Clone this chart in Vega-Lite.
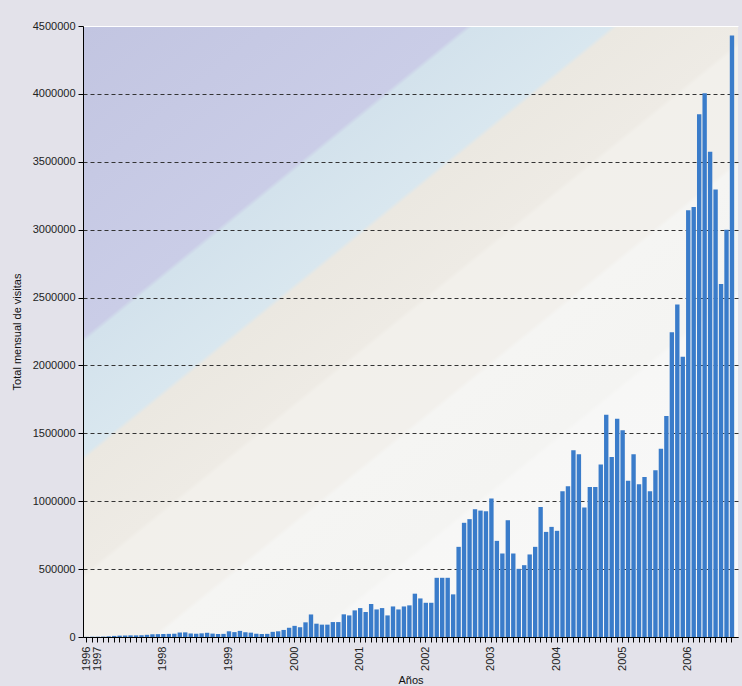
{
  "$schema": "https://vega.github.io/schema/vega-lite/v6.json",
  "width": 655,
  "height": 611,
  "autosize": {"type": "none"},
  "padding": {"left": 83, "top": 26, "right": 4, "bottom": 49},
  "background": "#e3e2ea",
  "config": {
    "font": "Liberation Sans",
    "view": {
      "stroke": null,
      "fill": {
        "gradient": "linear",
        "x1": 0, "y1": 0, "x2": 0.87, "y2": 1,
        "stops": [
          {"offset": 0, "color": "#c2c5e1"},
          {"offset": 0.29, "color": "#cacde7"},
          {"offset": 0.295, "color": "#d3e2ec"},
          {"offset": 0.4, "color": "#d9e7ef"},
          {"offset": 0.405, "color": "#ebe8e1"},
          {"offset": 0.51, "color": "#eeebe5"},
          {"offset": 0.515, "color": "#f2f0eb"},
          {"offset": 0.62, "color": "#f2f0ec"},
          {"offset": 0.625, "color": "#f5f5f3"},
          {"offset": 0.74, "color": "#f4f4f2"},
          {"offset": 0.745, "color": "#f7f7f6"},
          {"offset": 1, "color": "#f8f8f8"}
        ]
      }
    }
  },
  "data": {
    "values": [
      {"mes": "1996-11", "visitas": 1000}, {"mes": "1996-12", "visitas": 2000},
      {"mes": "1997-01", "visitas": 2000}, {"mes": "1997-02", "visitas": 3000}, {"mes": "1997-03", "visitas": 5000}, {"mes": "1997-04", "visitas": 8000}, {"mes": "1997-05", "visitas": 10000}, {"mes": "1997-06", "visitas": 11000}, {"mes": "1997-07", "visitas": 12000}, {"mes": "1997-08", "visitas": 12000}, {"mes": "1997-09", "visitas": 13000}, {"mes": "1997-10", "visitas": 16000}, {"mes": "1997-11", "visitas": 20000}, {"mes": "1997-12", "visitas": 21000},
      {"mes": "1998-01", "visitas": 22000}, {"mes": "1998-02", "visitas": 23000}, {"mes": "1998-03", "visitas": 24000}, {"mes": "1998-04", "visitas": 33000}, {"mes": "1998-05", "visitas": 34000}, {"mes": "1998-06", "visitas": 26000}, {"mes": "1998-07", "visitas": 24000}, {"mes": "1998-08", "visitas": 27000}, {"mes": "1998-09", "visitas": 31000}, {"mes": "1998-10", "visitas": 25000}, {"mes": "1998-11", "visitas": 22000}, {"mes": "1998-12", "visitas": 23000},
      {"mes": "1999-01", "visitas": 42000}, {"mes": "1999-02", "visitas": 36000}, {"mes": "1999-03", "visitas": 45000}, {"mes": "1999-04", "visitas": 35000}, {"mes": "1999-05", "visitas": 32000}, {"mes": "1999-06", "visitas": 24000}, {"mes": "1999-07", "visitas": 22000}, {"mes": "1999-08", "visitas": 23000}, {"mes": "1999-09", "visitas": 38000}, {"mes": "1999-10", "visitas": 42000}, {"mes": "1999-11", "visitas": 52000}, {"mes": "1999-12", "visitas": 68000},
      {"mes": "2000-01", "visitas": 82000}, {"mes": "2000-02", "visitas": 72000}, {"mes": "2000-03", "visitas": 108000}, {"mes": "2000-04", "visitas": 166000}, {"mes": "2000-05", "visitas": 98000}, {"mes": "2000-06", "visitas": 91000}, {"mes": "2000-07", "visitas": 91000}, {"mes": "2000-08", "visitas": 110000}, {"mes": "2000-09", "visitas": 110000}, {"mes": "2000-10", "visitas": 167000}, {"mes": "2000-11", "visitas": 159000}, {"mes": "2000-12", "visitas": 196000},
      {"mes": "2001-01", "visitas": 213000}, {"mes": "2001-02", "visitas": 184000}, {"mes": "2001-03", "visitas": 243000}, {"mes": "2001-04", "visitas": 203000}, {"mes": "2001-05", "visitas": 213000}, {"mes": "2001-06", "visitas": 159000}, {"mes": "2001-07", "visitas": 225000}, {"mes": "2001-08", "visitas": 203000}, {"mes": "2001-09", "visitas": 225000}, {"mes": "2001-10", "visitas": 233000}, {"mes": "2001-11", "visitas": 319000}, {"mes": "2001-12", "visitas": 284000},
      {"mes": "2002-01", "visitas": 252000}, {"mes": "2002-02", "visitas": 252000}, {"mes": "2002-03", "visitas": 436000}, {"mes": "2002-04", "visitas": 436000}, {"mes": "2002-05", "visitas": 436000}, {"mes": "2002-06", "visitas": 314000}, {"mes": "2002-07", "visitas": 664000}, {"mes": "2002-08", "visitas": 841000}, {"mes": "2002-09", "visitas": 868000}, {"mes": "2002-10", "visitas": 941000}, {"mes": "2002-11", "visitas": 931000}, {"mes": "2002-12", "visitas": 926000},
      {"mes": "2003-01", "visitas": 1020000}, {"mes": "2003-02", "visitas": 708000}, {"mes": "2003-03", "visitas": 615000}, {"mes": "2003-04", "visitas": 860000}, {"mes": "2003-05", "visitas": 615000}, {"mes": "2003-06", "visitas": 502000}, {"mes": "2003-07", "visitas": 529000}, {"mes": "2003-08", "visitas": 608000}, {"mes": "2003-09", "visitas": 664000}, {"mes": "2003-10", "visitas": 958000}, {"mes": "2003-11", "visitas": 774000}, {"mes": "2003-12", "visitas": 811000},
      {"mes": "2004-01", "visitas": 782000}, {"mes": "2004-02", "visitas": 1073000}, {"mes": "2004-03", "visitas": 1110000}, {"mes": "2004-04", "visitas": 1375000}, {"mes": "2004-05", "visitas": 1346000}, {"mes": "2004-06", "visitas": 953000}, {"mes": "2004-07", "visitas": 1105000}, {"mes": "2004-08", "visitas": 1105000}, {"mes": "2004-09", "visitas": 1270000}, {"mes": "2004-10", "visitas": 1637000}, {"mes": "2004-11", "visitas": 1326000}, {"mes": "2004-12", "visitas": 1608000},
      {"mes": "2005-01", "visitas": 1522000}, {"mes": "2005-02", "visitas": 1150000}, {"mes": "2005-03", "visitas": 1346000}, {"mes": "2005-04", "visitas": 1125000}, {"mes": "2005-05", "visitas": 1179000}, {"mes": "2005-06", "visitas": 1073000}, {"mes": "2005-07", "visitas": 1228000}, {"mes": "2005-08", "visitas": 1387000}, {"mes": "2005-09", "visitas": 1627000}, {"mes": "2005-10", "visitas": 2244000}, {"mes": "2005-11", "visitas": 2448000}, {"mes": "2005-12", "visitas": 2064000},
      {"mes": "2006-01", "visitas": 3143000}, {"mes": "2006-02", "visitas": 3167000}, {"mes": "2006-03", "visitas": 3850000}, {"mes": "2006-04", "visitas": 4005000}, {"mes": "2006-05", "visitas": 3574000}, {"mes": "2006-06", "visitas": 3296000}, {"mes": "2006-07", "visitas": 2600000}, {"mes": "2006-08", "visitas": 3000000}, {"mes": "2006-09", "visitas": 4430000}
    ]
  },
  "mark": {"type": "bar", "color": "#3a7cca"},
  "encoding": {
    "x": {
      "field": "mes",
      "type": "ordinal",
      "sort": null,
      "scale": {"paddingInner": 0.2, "paddingOuter": 0.5, "align": 0.3},
      "axis": {
        "title": "Años",
        "titleFont": "Liberation Sans",
        "titleFontSize": 11,
        "titleFontWeight": "normal",
        "titleColor": "#111111",
        "titlePadding": 4,
        "labelExpr": "(datum.value == '1996-11' || substring(datum.value, 5, 7) == '01') ? substring(datum.value, 0, 4) : ''",
        "labelAngle": -90,
        "labelFontSize": 11,
        "labelColor": "#222222",
        "labelPadding": 4,
        "labelOverlap": false,
        "labelBound": false,
        "tickColor": "#000000",
        "tickSize": 5,
        "domainColor": "#000000",
        "grid": false
      }
    },
    "y": {
      "field": "visitas",
      "type": "quantitative",
      "scale": {"domain": [0, 4500000], "nice": false},
      "axis": {
        "title": "Total mensual de visitas",
        "titleFont": "Liberation Sans",
        "titleFontSize": 11,
        "titleFontWeight": "normal",
        "titleColor": "#111111",
        "titlePadding": 10,
        "values": [0, 500000, 1000000, 1500000, 2000000, 2500000, 3000000, 3500000, 4000000, 4500000],
        "format": "d",
        "labelFontSize": 11,
        "labelColor": "#222222",
        "labelPadding": 3,
        "tickColor": "#000000",
        "tickSize": 5,
        "domainColor": "#000000",
        "grid": true,
        "gridColor": {"condition": {"test": "datum.value == 4500000", "value": "#ffffff"}, "value": "#333333"},
        "gridDash": {"condition": {"test": "datum.value == 4500000", "value": []}, "value": [4, 3]},
        "gridWidth": 1
      }
    }
  }
}
